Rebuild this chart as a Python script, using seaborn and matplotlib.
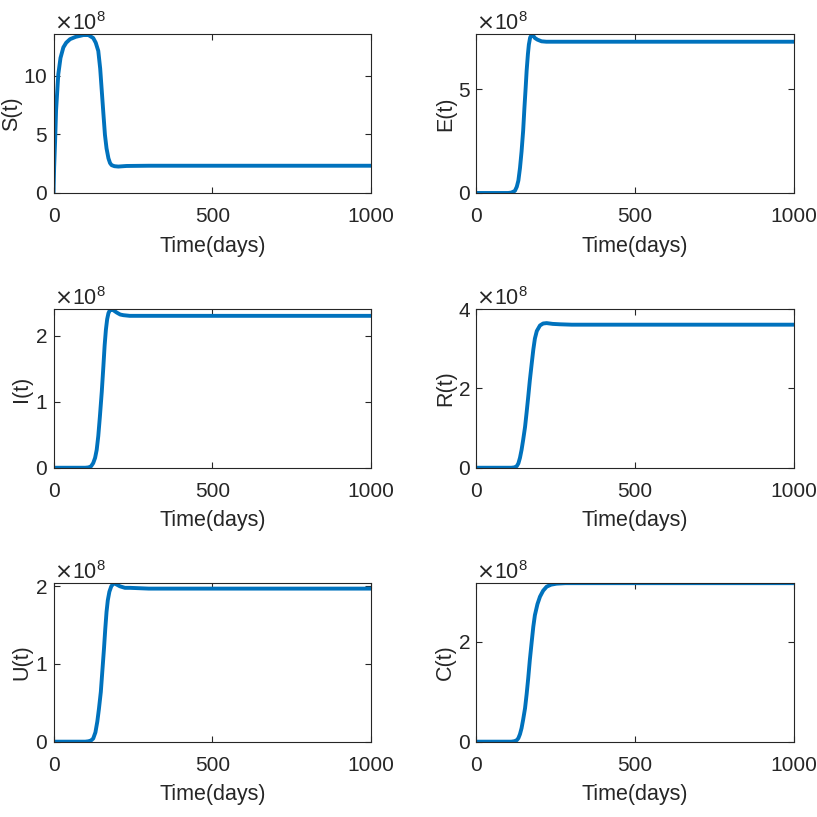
import numpy as np
import pandas as pd
import matplotlib
matplotlib.use("Agg")
import matplotlib.pyplot as plt
from matplotlib.ticker import ScalarFormatter
import seaborn as sns

# valores (unidades de 1e8)
t_s = [0, 2, 5, 8, 15, 22, 31, 40, 52, 70, 94, 110, 125, 133, 141, 147, 152,
       157, 162, 167, 173, 178, 183, 192, 204, 230, 300, 1000]
s_vals = [0, 2.2, 4.4, 7.0, 10.1, 11.5, 12.4, 12.8, 13.1, 13.3, 13.45, 13.45,
          13.2, 12.8, 12.1, 10.6, 8.7, 6.8, 4.95, 3.8, 2.95, 2.55, 2.37, 2.28,
          2.25, 2.3, 2.32, 2.32]

t_e = [0, 100, 110, 121, 127, 132, 137, 142, 147, 151, 155, 158, 162, 165, 169,
       174, 179, 184, 192, 205, 220, 242, 300, 1000]
e_vals = [0, 0, 0.02, 0.1, 0.3, 0.6, 1.2, 2.0, 3.0, 4.1, 5.1, 5.9, 6.7, 7.16,
          7.5, 7.64, 7.58, 7.48, 7.4, 7.32, 7.3, 7.3, 7.3, 7.3]

t_i = [0, 100, 110, 118, 125, 131, 136, 141, 146, 152, 157, 161, 165, 169, 173,
       178, 183, 190, 199, 210, 220, 240, 300, 1000]
i_vals = [0, 0, 0.005, 0.02, 0.07, 0.15, 0.27, 0.48, 0.77, 1.15, 1.53, 1.85,
          2.09, 2.25, 2.34, 2.39, 2.40, 2.38, 2.35, 2.32, 2.31, 2.30, 2.30, 2.30]

t_r = [0, 110, 120, 127, 132, 137, 142, 147, 153, 158, 163, 168, 174, 179, 184,
       190, 200, 210, 221, 240, 263, 300, 1000]
r_vals = [0, 0, 0.01, 0.04, 0.11, 0.25, 0.45, 0.7, 1.03, 1.4, 1.79, 2.2, 2.63,
          2.98, 3.26, 3.45, 3.59, 3.64, 3.65, 3.63, 3.62, 3.61, 3.61]

t_u = [0, 100, 110, 118, 125, 132, 138, 143, 149, 154, 159, 163, 167, 171, 176,
       182, 190, 200, 209, 225, 241, 300, 1000]
u_vals = [0, 0, 0.005, 0.015, 0.04, 0.12, 0.26, 0.42, 0.64, 0.92, 1.2, 1.45,
          1.67, 1.82, 1.93, 2.0, 2.04, 2.02, 2.0, 1.98, 1.98, 1.97, 1.97]

t_c = [0, 110, 120, 127, 132, 137, 142, 147, 153, 158, 163, 168, 174, 179, 184,
       192, 200, 210, 221, 235, 252, 280, 1000]
c_vals = [0, 0, 0.01, 0.03, 0.07, 0.15, 0.27, 0.44, 0.67, 0.95, 1.27, 1.63, 2.0,
          2.3, 2.53, 2.75, 2.9, 3.02, 3.1, 3.14, 3.16, 3.17, 3.17]

y_labels = ["S(t)", "E(t)", "I(t)", "R(t)", "U(t)", "C(t)"]
y_tops = [13.5, 7.65, 2.40, 4.0, 2.04, 3.17]
y_ticks = [[0, 5, 10], [0, 5], [0, 1, 2], [0, 2, 4], [0, 1, 2], [0, 2]]
x_ticks = [0, 500, 1000]

series = [(t_s, s_vals), (t_e, e_vals), (t_i, i_vals),
          (t_r, r_vals), (t_u, u_vals), (t_c, c_vals)]

tam = 15

sns.set_theme(style="ticks")
plt.rcParams["font.family"] = ["Liberation Sans", "DejaVu Sans"]
plt.rcParams.update({
    "axes.edgecolor": "#262626",
    "axes.linewidth": 0.8,
    "xtick.direction": "in",
    "ytick.direction": "in",
    "xtick.top": True,
    "ytick.right": True,
    "xtick.major.size": 4,
    "ytick.major.size": 4,
    "xtick.major.width": 0.8,
    "ytick.major.width": 0.8,
    "xtick.major.pad": 10,
    "ytick.major.pad": 4,
    "xtick.color": "#262626",
    "ytick.color": "#262626",
    "xtick.labelsize": tam,
    "ytick.labelsize": tam,
    "axes.labelsize": tam + 0.5,
    "axes.labelpad": 7,
    "text.color": "#262626",
    "axes.labelcolor": "#262626",
})

fig = plt.figure(figsize=(8.17, 8.17), dpi=100)
fig.patch.set_facecolor("white")

col_x = [0.0655, 0.5832]
row_y = [0.7638, 0.4275, 0.0922]
w, h = 0.3886, 0.194
# borda direita do rótulo y (coordenadas do eixo)
ylabel_x = [-0.099, -0.065, -0.068, -0.065, -0.068, -0.065]

for k, (t, vals) in enumerate(series):
    ax = fig.add_axes([col_x[k % 2], row_y[k // 2], w, h])
    df = pd.DataFrame({"t": t, "v": np.array(vals) * 1e8})
    sns.lineplot(data=df, x="t", y="v", ax=ax, color="#0072BD",
                 linewidth=2.8, sort=True)
    ax.set_xlim(0, 1000)
    ax.set_ylim(0, y_tops[k] * 1e8)
    ax.set_xticks(x_ticks)
    ax.set_yticks(np.array(y_ticks[k]) * 1e8)
    fmt = ScalarFormatter(useMathText=True)
    fmt.set_powerlimits((8, 8))
    ax.yaxis.set_major_formatter(fmt)
    ax.yaxis.get_offset_text().set_fontsize(tam + 0.5)
    ax.set_xlabel("Time(days)")
    ax.set_ylabel(y_labels[k])
    ax.yaxis.set_label_coords(ylabel_x[k], 0.5)
    for sp in ax.spines.values():
        sp.set_visible(True)

fig.savefig("out.png", dpi=100, facecolor="white")
